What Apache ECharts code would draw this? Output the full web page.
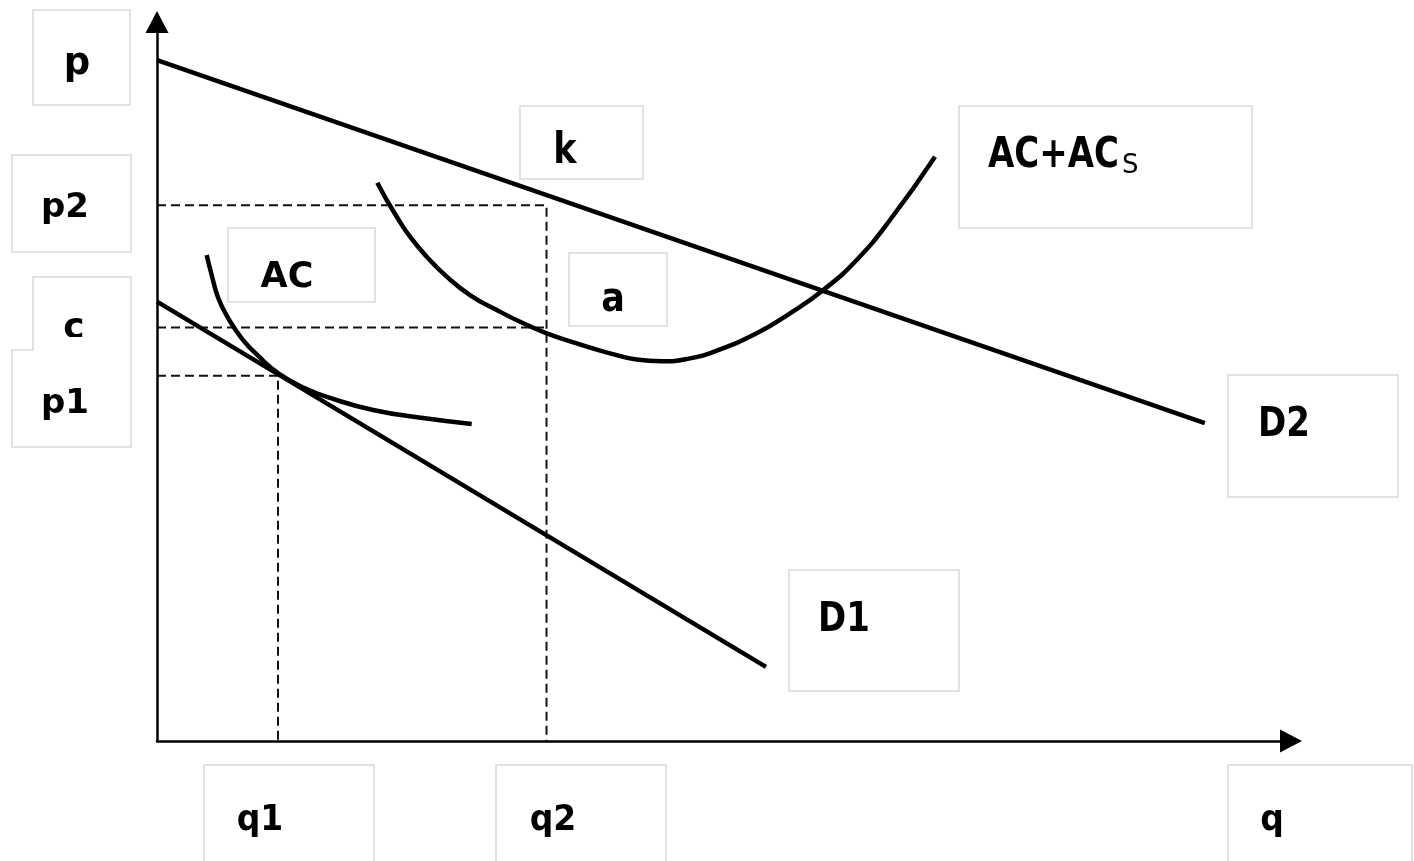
<!DOCTYPE html>
<html>
<head>
<meta charset="utf-8">
<script src="https://cdn.jsdelivr.net/npm/echarts@6/dist/echarts.min.js"></script>
<style>
html,body{margin:0;padding:0;background:#fff;}
#chart{width:1414px;height:861px;}
</style>
</head>
<body>
<div id="chart"></div>
<script>
// ---- data (axis units: 0..100 on both axes) ----
const d2Line = [[0, 94.7], [92.4, 44.2]];
const d1Line = [[0, 61.1], [53.7, 10.3]];
const acCurve = [
  [4.38, 67.59], [4.82, 64.81], [5.41, 61.57], [6.29, 58.79], [7.47, 56.01],
  [8.93, 53.55], [10.70, 51.14], [13.05, 49.05], [15.26, 47.71], [19.05, 46.04],
  [23.46, 44.92], [27.75, 44.09]
];
const acsCurve = [
  [19.43, 77.65], [20.26, 75.24], [21.14, 72.92], [22.31, 70.14], [23.78, 67.36],
  [25.55, 64.58], [27.60, 62.03], [29.96, 59.94], [32.30, 58.09], [34.37, 56.70],
  [37.01, 55.31], [39.95, 53.92], [42.30, 53.05], [44.50, 52.80], [46.80, 53.15],
  [49.20, 54.20], [52.88, 56.70], [55.82, 59.49], [58.76, 62.73], [61.70, 66.90],
  [64.64, 72.46], [68.61, 81.27]
];
const qNames = ['q1', 'q2'];
const qValues = [10.67, 34.35];
const pNames = ['p1', 'c', 'p2'];
const pValues = [50.8, 57.5, 74.5];

// guide lines built from the levels
const guideP2 = [[0, pValues[2]], [qValues[1], pValues[2]], [qValues[1], 0]];
const guideC = [[0, pValues[1]], [qValues[1], pValues[1]]];
const guideP1 = [[0, pValues[0]], [qValues[0], pValues[0]], [qValues[0], 0]];

const chart = echarts.init(document.getElementById('chart'), null, {renderer: 'canvas'});

const BORDER = '#d9d9d9';
const FONT = '"DejaVu Sans", Verdana, sans-serif';
function box(x, y, w, h) {
  return {type: 'rect', shape: {x: x, y: y, width: w, height: h},
    style: {fill: '#fff', stroke: BORDER, lineWidth: 1.5}, z: 5};
}
function label(text, x, y, size, sy, align, weight) {
  return {type: 'text', x: x, y: y, scaleY: sy, z: 10,
    style: {text: text, font: (weight || 'bold') + ' ' + size + 'px ' + FONT, fill: '#000',
      textAlign: align || 'center', align: align || 'center',
      textVerticalAlign: 'middle', verticalAlign: 'middle'}};
}

const curveStyle = {color: '#000', width: 4.5};
const dashStyle = {color: '#111', width: 2, type: [9, 5]};

function lineSeries(name, data, style, smooth) {
  return {type: 'line', name: name, data: data, showSymbol: false, symbol: 'none',
    smooth: smooth || false, lineStyle: style, silent: true, z: 3, animation: false};
}

chart.setOption({
  animation: false,
  backgroundColor: '#fff',
  grid: {left: 157, top: 22, width: 1134, height: 719, containLabel: false, outerBoundsMode: 'none'},
  xAxis: {
    type: 'value', min: 0, max: 100,
    axisLine: {show: true, onZero: false, symbol: ['none', 'triangle'], symbolSize: [23, 22],
      lineStyle: {color: '#000', width: 2.5}},
    axisTick: {show: false}, axisLabel: {show: false}, splitLine: {show: false}
  },
  yAxis: {
    type: 'value', min: 0, max: 100,
    axisLine: {show: true, onZero: false, symbol: ['none', 'triangle'], symbolSize: [23, 22],
      lineStyle: {color: '#000', width: 2.5}},
    axisTick: {show: false}, axisLabel: {show: false}, splitLine: {show: false}
  },
  series: [
    lineSeries('p2', guideP2, dashStyle),
    lineSeries('c', guideC, dashStyle),
    lineSeries('p1', guideP1, dashStyle),
    lineSeries('D2', d2Line, curveStyle),
    lineSeries('D1', d1Line, curveStyle),
    lineSeries('AC', acCurve, curveStyle, 0.5),
    lineSeries('AC+ACs', acsCurve, curveStyle, 0.5)
  ],
  graphic: {elements: [
    box(33, 10, 97, 95), label('p', 77, 64, 37, 1.0),
    box(12, 155, 119, 97), label('p2', 65, 208, 34, 1.0),
    {type: 'polygon', z: 5, shape: {points: [[12, 350], [33, 350], [33, 277], [131, 277], [131, 447], [12, 447]]},
      style: {fill: '#fff', stroke: BORDER, lineWidth: 1.5}},
    label('c', 74, 329, 36, 1.0),
    {type: 'rect', z: 11, shape: {x: 34, y: 337, width: 96, height: 12}, style: {fill: '#fff'}},
    label('p1', 65, 404, 34, 1.0),
    box(228, 228, 147, 74), label('AC', 287, 278, 35, 1.0),
    box(520, 106, 123, 73), label('k', 565, 152, 35, 1.2),
    box(569, 253, 98, 73), label('a', 613, 301, 35, 1.15),
    box(959, 106, 293, 122), label('AC+AC', 988, 156, 34, 1.25, 'left'),
    label('S', 1122, 166, 26, 1.05, 'left', 'normal'),
    box(1228, 375, 170, 122), label('D2', 1258, 425, 34, 1.2, 'left'),
    box(789, 570, 170, 121), label('D1', 818, 620, 34, 1.2, 'left'),
    box(204, 765, 170, 130), label('q1', 260, 821, 33, 1.1),
    box(496, 765, 170, 130), label('q2', 553, 821, 33, 1.1),
    box(1228, 765, 184, 130), label('q', 1272, 821, 33, 1.1)
  ]}
});
</script>
</body>
</html>
